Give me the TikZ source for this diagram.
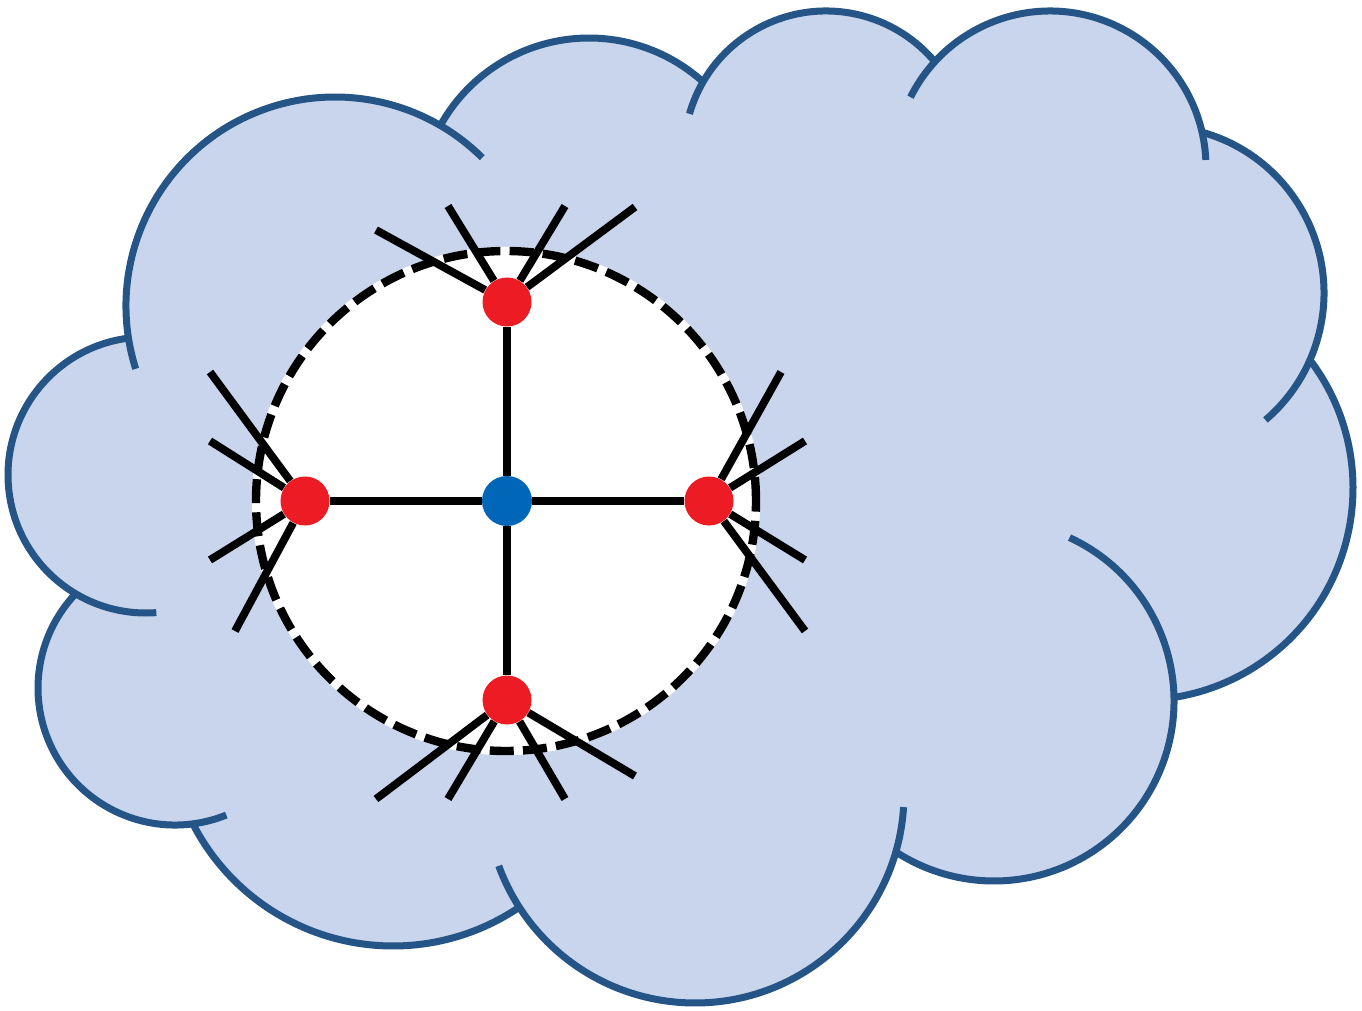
\documentclass[tikz,border=0pt]{standalone}
\usetikzlibrary{calc}
\definecolor{cloudfill}{HTML}{C9D5EC}
\definecolor{cloudedge}{HTML}{255487}
\definecolor{dotred}{HTML}{ED1C24}
\definecolor{dotblue}{HTML}{0067B8}
\tikzset{
  cloudline/.style={draw=cloudedge, line width=3.5pt},
  reddot/.style={circle, fill=dotred, inner sep=0pt, minimum size=24.5pt},
  bluedot/.style={circle, fill=dotblue, inner sep=0pt, minimum size=25pt},
  spoke/.style={draw=black, line width=3.9pt},
  ring/.style={draw=black, line width=4.2pt, dash pattern=on 12pt off 4.6pt},
}
\begin{document}
\begin{tikzpicture}[x=0.5pt, y=0.5pt]
\fill[white] (0,0) rectangle (1362,-1011);
\useasboundingbox (0,0) rectangle (1362,-1011);
% bump centres
\coordinate (c1) at (146,-475);
\coordinate (c2) at (175,-688);
\coordinate (c3) at (393,-721);
\coordinate (c4) at (695,-794);
\coordinate (c5) at (994,-701);
\coordinate (c6) at (1141,-488);
\coordinate (c7) at (1157,-293);
\coordinate (c8) at (1050,-167);
\coordinate (c9) at (826,-153);
\coordinate (c10) at (589,-208);
\coordinate (c11) at (335,-306);
% cloud body
\fill[cloudfill] (128.5,-338.2) arc[start angle=188.9, end angle=59.7, radius=209]
  -- (440.4,-125.4) arc[start angle=150.9, end angle=47.9, radius=170]
  -- (703.1,-81.9) arc[start angle=149.95, end angle=39.97, radius=142]
  -- (934.8,-61.8) arc[start angle=137.6, end angle=12.9, radius=156]
  -- (1202,-132.2) arc[start angle=74.4, end angle=-23.6, radius=167]
  -- (1310,-360) arc[start angle=37.1, end angle=-81.0, radius=212]
  -- (1174,-697.4) arc[start angle=1.1, end angle=-123.1, radius=180]
  -- (895.8,-851.8) arc[start angle=-16.1, end angle=-147.2, radius=209]
  -- (519.2,-907.2) arc[start angle=-55.9, end angle=-152.8, radius=225]
  -- (192.9,-823.8) arc[start angle=-82.5, end angle=-223.5, radius=137]
  -- (75.6,-593.7) arc[start angle=239.3, end angle=97.3, radius=138]
  -- cycle;
% cloud outline with inner tails
\draw[cloudline] (c11) ++(197.5:209) arc[start angle=197.5, end angle=45.2, radius=209];
\draw[cloudline] (c10) ++(150.9:170) arc[start angle=150.9, end angle=47.9, radius=170];
\draw[cloudline] (c9) ++(164:142) arc[start angle=164, end angle=39.97, radius=142];
\draw[cloudline] (c8) ++(153.4:156) arc[start angle=153.4, end angle=2.6, radius=156];
\draw[cloudline] (c7) ++(74.4:167) arc[start angle=74.4, end angle=-49.5, radius=167];
\draw[cloudline] (c6) ++(37.1:212) arc[start angle=37.1, end angle=-81.0, radius=212];
\draw[cloudline] (c5) ++(65.2:180) arc[start angle=65.2, end angle=-123.1, radius=180];
\draw[cloudline] (c4) ++(-3.6:209) arc[start angle=-3.6, end angle=-159.9, radius=209];
\draw[cloudline] (c3) ++(-55.9:225) arc[start angle=-55.9, end angle=-152.8, radius=225];
\draw[cloudline] (c2) ++(-68:137) arc[start angle=-68, end angle=-223.5, radius=137];
\draw[cloudline] (c1) ++(274.3:138) arc[start angle=274.3, end angle=97.3, radius=138];
% neighbourhood circle
\coordinate (ringc) at (506,-501);
\fill[white] (ringc) circle[radius=250];
\draw[white, line width=4.2pt] (ringc) circle[radius=250];
\draw[ring] (ringc) circle[radius=250];
% nodes
\node[bluedot] (O) at (507,-501) {};
\node[reddot] (T) at (507,-302) {};
\node[reddot] (D) at (507,-700) {};
\node[reddot] (L) at (305,-501) {};
\node[reddot] (R) at (709,-501) {};
% free ends
\coordinate (t1) at (376,-230);
\coordinate (t2) at (448,-206);
\coordinate (t3) at (565,-206);
\coordinate (t4) at (635,-207);
\coordinate (d1) at (376,-799);
\coordinate (d2) at (448,-799);
\coordinate (d3) at (565,-799);
\coordinate (d4) at (635,-776);
\coordinate (l1) at (210,-372);
\coordinate (l2) at (210,-441);
\coordinate (l3) at (210,-560);
\coordinate (l4) at (235,-631);
\coordinate (r1) at (781,-372);
\coordinate (r2) at (805,-441);
\coordinate (r3) at (805,-560);
\coordinate (r4) at (805,-631);
% connectors
\foreach \a/\b in {O/T, O/D, O/L, O/R,
  T/t1, T/t2, T/t3, T/t4, D/d1, D/d2, D/d3, D/d4,
  L/l1, L/l2, L/l3, L/l4, R/r1, R/r2, R/r3, R/r4}
  \draw[spoke] (\a) -- (\b);
\end{tikzpicture}
\end{document}
